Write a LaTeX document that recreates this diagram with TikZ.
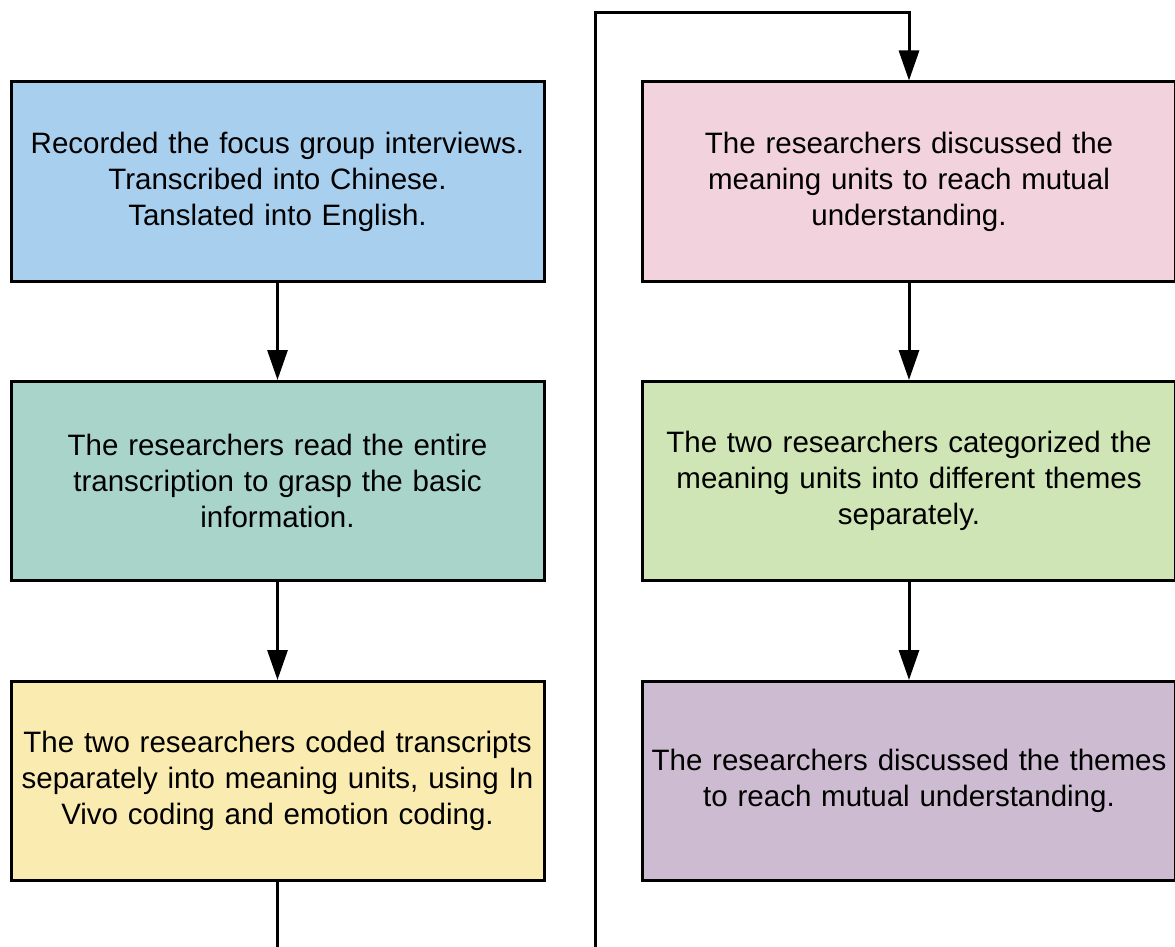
\documentclass[tikz,border=0pt]{standalone}
\usepackage{fontspec}
\setmainfont{Liberation Sans}
\usetikzlibrary{arrows.meta}
\definecolor{cblue}{RGB}{169,207,238}
\definecolor{cteal}{RGB}{168,212,201}
\definecolor{cyellow}{RGB}{250,235,176}
\definecolor{cpink}{RGB}{242,211,221}
\definecolor{cgreen}{RGB}{207,229,181}
\definecolor{cpurple}{RGB}{205,188,209}
\begin{document}
\begin{tikzpicture}[x=1pt,y=-1pt,
  stepbox/.style={draw=black,line width=3pt,minimum width=533pt,minimum height=199pt,
    align=center,text width=526pt,inner sep=0pt,
    font=\fontsize{29.5pt}{36pt}\selectfont},
  conn/.style={line width=3pt,-{Triangle[length=30pt,width=20pt]}},
  plain/.style={line width=3pt}]
\useasboundingbox (0,0) rectangle (1175,947);
\node[stepbox,fill=cblue] (a) at (277.5,181.5) {Recorded the focus group interviews.\\Transcribed into Chinese.\\Tanslated into English.};
\node[stepbox,fill=cteal] (b) at (277.5,481) {The researchers read the entire\\transcription to grasp the basic\\information.};
\node[stepbox,fill=cyellow] (c) at (277.5,781) {The two researchers coded transcripts\\separately into meaning units, using In\\Vivo coding and emotion coding.};
\node[stepbox,fill=cpink] (d) at (909,181.5) {The researchers discussed the\\meaning units to reach mutual\\understanding.};
\node[stepbox,fill=cgreen] (e) at (909,481) {The two researchers categorized the\\meaning units into different themes\\separately.};
\node[stepbox,fill=cpurple] (f) at (909,781) {The researchers discussed the themes\\to reach mutual understanding.};
\draw[conn] (a) -- (b);
\draw[conn] (b) -- (c);
\draw[conn] (d) -- (e);
\draw[conn] (e) -- (f);
\coordinate (c1) at (277.5,960);
\coordinate (c2) at (595,960);
\coordinate (c3) at (595,13);
\coordinate (c4) at (909,13);
\draw[plain] (c.south) -- (c1);
\draw[conn] (c2) -- (c3) -- (c4) -- (d.north);
\end{tikzpicture}
\end{document}
